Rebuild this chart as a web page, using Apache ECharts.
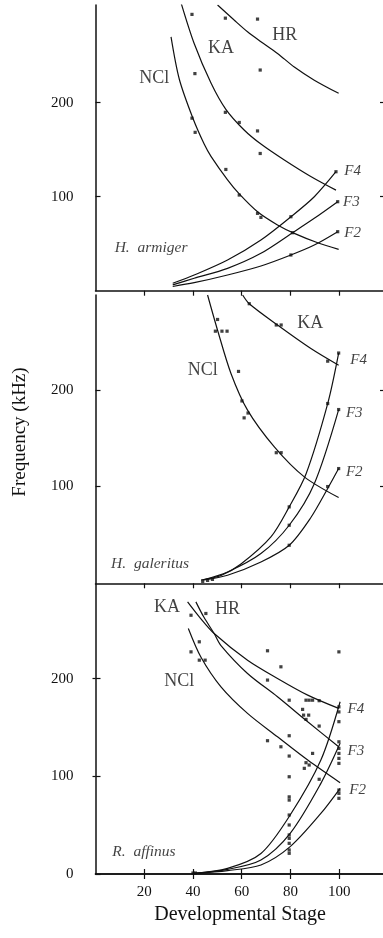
<!DOCTYPE html>
<html><head><meta charset="utf-8">
<script src="https://cdn.jsdelivr.net/npm/echarts@6/dist/echarts.min.js"></script>
<style>html,body{margin:0;padding:0;background:#fff}#c{width:383px;height:938px}</style>
</head><body><div id="c"></div>
<script>
// ---------- Data (Developmental Stage, Frequency kHz) ----------
const xTicks = [20, 40, 60, 80, 100];
const yTicksUpper = [100, 200];
const yTicksBottom = [0, 100, 200];

// Panel 1: H. armiger
const armigerHR  = [[50.1,304],[56.9,288],[62.4,275.5],[67.9,265],[74.7,252.5],[81.6,238],[89.8,224],[99.8,210]];
const armigerKA  = [[34.8,309],[40.5,263],[47.4,221],[53.5,193],[61,171],[67.9,156],[77.5,139],[88,122],[98.7,107]];
const armigerNCl = [[31,270],[34.4,225],[39.9,184],[44.6,156],[47.4,143],[54.2,118],[59,103],[66.5,84],[74.7,70],[81.6,61],[91.2,51],[99.8,44]];
const armigerF4  = [[31.7,7.9],[40.5,16.7],[54.2,32.7],[67.9,54],[80.2,78.7],[89.8,100],[98.7,126.6]];
const armigerF3  = [[31.7,6.2],[40.5,13.2],[54.2,23.8],[67.9,39.8],[80.9,61.7],[89.8,77],[99.4,94.7]];
const armigerF2  = [[31.7,4.5],[40.5,8.5],[54.2,16.7],[67.9,26.3],[80.2,38],[89.8,48.6],[99.4,62.8]];
const armigerPts = [[39.6,294],[53.3,290],[66.5,289],[67.6,234.8],[40.8,231],
  [53.3,189.8],[59,179],[66.5,170],[67.6,146],
  [39.6,183.6],[40.9,168.5],[53.5,129],[59,101.8],[66.5,82.3],[67.9,78],
  [80.2,78.7],[98.7,126.6],[80.9,61.7],[99.4,94.7],[80.2,38],[99.4,62.8]];
const armigerLabels = [["HR",77.7,272,"n"],["KA",51.5,258,"n"],["NCl",24.1,226,"n"],
  ["F4",105.5,127.7,"f"],["F3",105,94.7,"f"],["F2",105.5,61.7,"f"],["H.  armiger",22.8,45,"s"]];

// Panel 2: H. galeritus
const galeritusKA  = [[60.4,298],[63.1,289],[74.7,267],[88.4,242.7],[99.8,225.4]];
const galeritusNCl = [[46,298],[50.1,261.6],[55.6,216.9],[62.4,179],[73.4,141],[85.7,110],[99.8,88.6]];
const galeritusF4  = [[43.3,3.4],[51.5,8],[59.7,20],[72,48],[79.5,79],[86.4,113],[95.3,185.8],[99.8,238]];
const galeritusF3  = [[44,3.4],[54.2,11.7],[67.9,30.7],[79.5,60],[89.8,103],[99.8,179.6]];
const galeritusF2  = [[44.6,3.4],[54.2,8.3],[67.9,22],[79.5,39.3],[88.4,68],[95.3,98],[99.8,118.6]];
const galeritusPts = [[63.1,289],[74.2,267],[76.2,267],[95.3,229.6],
  [50.1,272.7],[49.2,260.6],[51.9,260.6],[54,260.6],[58.7,219],[60.1,188.5],[62.6,176],[61,171],[74.2,135],[76.2,135],
  [79.5,79],[95.3,185.8],[99.8,238],[79.5,60],[99.8,179.6],[79.5,39.3],[95.3,100],[99.8,118.6],
  [44,2],[46,3],[48,4]];
const galeritusLabels = [["KA",88.1,268.5,"n"],["NCl",44,220,"n"],
  ["F4",108,230.6,"f"],["F3",106.2,176,"f"],["F2",106.2,115,"f"],["H.  galeritus",22.4,20.4,"s"]];

// Panel 3: R. affinus
const affinusKA  = [[37.8,278.7],[42.6,263.4],[48.7,246.3],[62.4,219],[74.7,200.3],[87.1,183.2],[99.8,169.6]];
const affinusHR  = [[41.2,278.7],[44.4,263.4],[48.7,246.3],[51.5,234],[62.4,205.4],[74.7,181.5],[87.1,155.9],[99.8,130.3]];
const affinusNCl = [[38.1,251.5],[43.3,222],[51.5,191.7],[62.4,164.5],[74.7,140.5],[87.1,116.7],[100.4,93.5]];
const affinusF4  = [[39.9,0.7],[54.2,5.8],[67.9,21],[79.9,60.4],[92.5,116.7],[100.4,176.4]];
const affinusF3  = [[40.5,0.7],[54.2,4.8],[67.9,14.3],[79.9,41.6],[92.5,92.8],[100.4,133.8]];
const affinusF2  = [[41,0.7],[54.2,3.5],[67.9,9.2],[79.9,28],[92.5,62],[100.4,87.7]];
const affinusPts = [[39.2,265],[45.3,266.8],[42.6,237.8],[39.2,227.5],[42.6,219],[45,219],
  [70.6,228.6],[70.6,198.6],[76.1,212.2],[79.5,178],[86.4,178],[87.7,178],[89.1,178],[91.8,177.5],
  [85,168.6],[85.4,162.7],[87.5,162.7],[86.4,158.3],[91.8,151.5],
  [99.9,227.5],[99.9,171.2],[99.9,166],[99.9,156],
  [70.6,136.5],[76.1,130.3],[79.5,141.6],[79.5,120.8],[86.4,114],[87.7,111.6],[85.7,108.2],[89.1,123.5],[91.8,97],
  [79.5,99.6],[79.5,79],[79.5,75.7],[79.5,60.4],[79.5,50.2],[79.5,40],[79.5,36.5],[79.5,31.4],[79.5,24.6],[79.5,21.2],
  [99.9,135.4],[99.9,128.6],[99.9,123.5],[99.9,118.4],[99.9,113.3],
  [99.9,86],[99.9,82.6],[99.9,77.5],[40,1],[41,1]];
const affinusLabels = [["KA",29.3,273,"n"],["HR",54.2,271,"n"],["NCl",34.4,197.5,"n"],
  ["F4",106.9,168.6,"f"],["F3",106.9,126.2,"f"],["F2",107.6,86,"f"],["R.  affinus",19.9,22.8,"s"]];

// ---------- Chart ----------
const FONT = "Liberation Serif";
const INK = "#111";
const panels = [
  {top: 5,   height: 285.7, yMax: 304, yTicks: yTicksUpper,  curves: [armigerHR, armigerKA, armigerNCl, armigerF4, armigerF3, armigerF2], pts: armigerPts, labels: armigerLabels},
  {top: 295, height: 288.3, yMax: 298, yTicks: yTicksUpper,  curves: [galeritusKA, galeritusNCl, galeritusF4, galeritusF3, galeritusF2], pts: galeritusPts, labels: galeritusLabels},
  {top: 584, height: 290,   yMax: 297, yTicks: yTicksBottom, curves: [affinusKA, affinusHR, affinusNCl, affinusF4, affinusF3, affinusF2], pts: affinusPts, labels: affinusLabels}
];

const grid = [], xAxis = [], yAxis = [], series = [];
panels.forEach((p, i) => {
  grid.push({left: 95.5, right: 0, top: p.top, height: p.height});
  xAxis.push({type: 'value', gridIndex: i, position: 'top', min: 0, max: 118,
    splitLine: {show: false},
    axisLine: {show: true, lineStyle: {color: INK, width: 1.5}},
    axisTick: {show: true, inside: true, length: 5, customValues: xTicks, lineStyle: {color: INK, width: 1.2}},
    axisLabel: {show: false}});
  yAxis.push({type: 'value', gridIndex: i, position: 'left', min: 0, max: p.yMax,
    splitLine: {show: false},
    axisLine: {show: true, lineStyle: {color: INK, width: 1.5}},
    axisTick: {show: true, inside: true, length: 5, customValues: p.yTicks, lineStyle: {color: INK, width: 1.2}},
    axisLabel: {show: true, customValues: p.yTicks, margin: 22, color: INK, fontFamily: FONT, fontSize: 15}});
  yAxis.push({type: 'value', gridIndex: i, position: 'right', min: 0, max: p.yMax,
    splitLine: {show: false},
    axisLine: {show: false},
    axisTick: {show: true, inside: true, length: 3, customValues: yTicksUpper, lineStyle: {color: INK, width: 1.2}},
    axisLabel: {show: false}});
  p.curves.forEach(c => series.push({type: 'line', xAxisIndex: i, yAxisIndex: i * 2, data: c,
    smooth: 0.3, symbol: 'none', silent: true, lineStyle: {color: INK, width: 1.2}, z: 3}));
  series.push({type: 'scatter', xAxisIndex: i, yAxisIndex: i * 2, data: p.pts,
    symbol: 'rect', symbolSize: 3.2, itemStyle: {color: INK}, silent: true, z: 4});
  series.push({type: 'scatter', xAxisIndex: i, yAxisIndex: i * 2, symbolSize: 0, silent: true, z: 5,
    data: p.labels.map(l => ({name: l[0], value: [l[1], l[2]],
      label: {fontStyle: l[3] === 'n' ? 'normal' : 'italic', fontSize: l[3] === 'f' ? 15 : (l[3] === 's' ? 15.5 : 18)}})),
    label: {show: true, position: 'inside', formatter: d => d.name, color: INK, fontFamily: FONT}});
});
// bottom axis with labels for the lowest panel
xAxis.push({type: 'value', gridIndex: 2, position: 'bottom', min: 0, max: 118,
  splitLine: {show: false},
  axisLine: {show: true, lineStyle: {color: INK, width: 1.5}},
  axisTick: {show: true, inside: true, length: 5, customValues: xTicks, lineStyle: {color: INK, width: 1.2}},
  axisLabel: {show: true, customValues: xTicks, margin: 11, color: INK, fontFamily: FONT, fontSize: 15}});

const chart = echarts.init(document.getElementById('c'), null, {renderer: 'canvas'});
chart.setOption({
  backgroundColor: '#fff',
  animation: false,
  grid, xAxis, yAxis, series,
  graphic: [
    {type: 'text', x: 240, y: 915, style: {text: 'Developmental Stage', fill: INK, font: '20px "Liberation Serif"', textAlign: 'center', textVerticalAlign: 'middle'}},
    {type: 'text', x: 20, y: 432, rotation: Math.PI / 2, style: {text: 'Frequency (kHz)', fill: INK, font: '19px "Liberation Serif"', textAlign: 'center', textVerticalAlign: 'middle'}}
  ]
});
</script></body></html>
